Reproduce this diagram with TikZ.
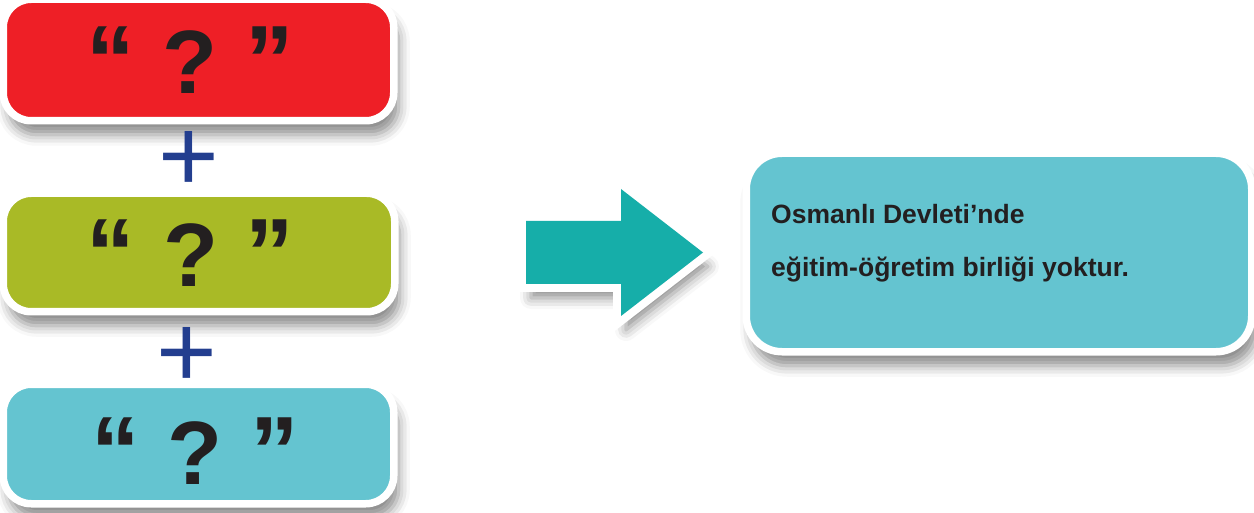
\documentclass[tikz,border=0pt]{standalone}
\usepackage{fontspec}
\setmainfont{Liberation Sans}
\usetikzlibrary{shadows.blur}
\definecolor{boxred}{HTML}{EE1F26}
\definecolor{boxgreen}{HTML}{A9BA26}
\definecolor{boxcyan}{HTML}{64C4D0}
\definecolor{arrowteal}{HTML}{16AEA9}
\definecolor{plusblue}{HTML}{233E8F}
\definecolor{inktext}{HTML}{231F20}
\newcommand{\qmtext}{{\fontsize{97}{97}\selectfont“}\hspace{28pt}?\hspace{28pt}{\fontsize{97}{97}\selectfont”}}
\begin{document}
\begin{tikzpicture}[x=1pt,y=-1pt,
  softshadow/.style={blur shadow={shadow xshift=5pt, shadow yshift=-14pt, shadow blur radius=11pt, shadow opacity=45}},
  card/.style={draw=white, line width=7.5pt, rounded corners=#1, inner sep=0pt, softshadow},
  card/.default=28pt,
  qmark/.style={anchor=base, inner sep=0pt, text=inktext, font=\fontsize{90}{90}\selectfont\bfseries},
  plussign/.style={anchor=base, inner sep=0pt, text=plusblue, font=\fontsize{104}{104}\selectfont},
  info/.style={anchor=base west, inner sep=0pt, text=inktext, font=\fontsize{26.5}{26.5}\selectfont\bfseries}]
\useasboundingbox (0,0) rectangle (1254,513);
% left column
\node[card, fill=boxred, minimum width=390.5pt, minimum height=121.5pt] (red) at (198.5,60) {};
\node[card, fill=boxgreen, minimum width=391.5pt, minimum height=118.5pt] (green) at (199,252.5) {};
\node[card, fill=boxcyan, minimum width=390.5pt, minimum height=119.5pt] (blue) at (198.5,444) {};
\node[qmark] (q1) at (190,94) {\qmtext};
\node[qmark] (q2) at (190.5,287) {\qmtext};
\node[qmark] (q3) at (195,484) {\qmtext};
\node[plussign] (p1) at (188.5,192) {+};
\node[plussign] (p2) at (187,387) {+};
% arrow
\coordinate (a1) at (526,221);
\coordinate (a2) at (621,221);
\coordinate (a3) at (621,189);
\coordinate (a4) at (703,252.5);
\coordinate (a5) at (621,316);
\coordinate (a6) at (621,284);
\coordinate (a7) at (526,284);
\path[softshadow, fill=white, draw=white, line width=16pt, line join=miter]
  (a1) -- (a2) -- (a3) -- (a4) -- (a5) -- (a6) -- (a7) -- cycle;
\path[fill=arrowteal] (a1) -- (a2) -- (a3) -- (a4) -- (a5) -- (a6) -- (a7) -- cycle;
% right box
\node[card=35.75pt, fill=boxcyan, minimum width=505.5pt, minimum height=198.5pt] (result) at (999,252.5) {};
\node[info] (t1) at (771,224) {Osmanlı Devleti’nde};
\node[info] (t2) at (771,277) {eğitim-öğretim birliği yoktur.};
\end{tikzpicture}
\end{document}
